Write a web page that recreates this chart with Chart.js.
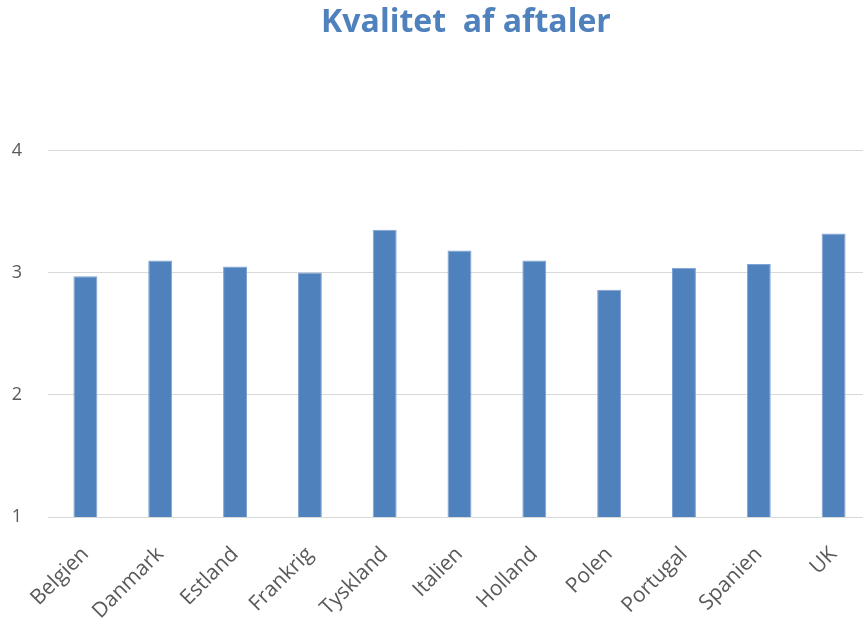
<!DOCTYPE html>
<html>
<head>
<meta charset="utf-8">
<script src="https://cdn.jsdelivr.net/npm/chart.js@4"></script>
<style>
  html, body { margin: 0; padding: 0; background: #fff; overflow: hidden; }
  #wrap { width: 932px; height: 621px; }
</style>
</head>
<body>
<div id="wrap"><canvas id="chart"></canvas></div>
<script>
// data
const countries = ['Belgien', 'Danmark', 'Estland', 'Frankrig', 'Tyskland', 'Italien', 'Holland', 'Polen', 'Portugal', 'Spanien', 'UK'];
const quality = [2.97, 3.10, 3.05, 3.00, 3.35, 3.18, 3.10, 2.86, 3.04, 3.07, 3.32];
const yTicks = [1, 2, 3, 4];

const titleText = 'Kvalitet  af aftaler';
const blue = '#4F81BD';
const grey = '#595959';

new Chart(document.getElementById('chart'), {
  type: 'bar',
  data: {
    labels: countries,
    datasets: [{
      data: quality,
      backgroundColor: blue,
      borderColor: '#7fa3d3',
      borderWidth: 1,
      barPercentage: 0.32,
      categoryPercentage: 1
    }]
  },
  options: {
    responsive: true,
    maintainAspectRatio: false,
    animation: false,
    layout: { padding: 0 },
    plugins: {
      legend: { display: false },
      tooltip: { enabled: false },
      title: {
        display: true,
        text: titleText,
        color: blue,
        font: { family: 'Open Sans', size: 32, weight: 'bold' },
        padding: { top: 4, bottom: 108 }
      }
    },
    scales: {
      x: {
        grid: { display: false },
        border: { display: false },
        ticks: {
          color: grey,
          font: { family: 'Open Sans', size: 21 },
          maxRotation: 45,
          minRotation: 45,
          autoSkip: false,
          padding: 17
        },
        afterFit: s => { s.height = 104; }
      },
      y: {
        min: 1,
        max: 4,
        afterBuildTicks: s => { s.ticks = yTicks.map(v => ({ value: v })); },
        grid: { color: '#d9d9d9', drawTicks: false, lineWidth: 1 },
        border: { display: false },
        ticks: {
          color: grey,
          font: { family: 'Open Sans', size: 18 },
          padding: 26
        },
        afterFit: s => { s.width = 48; }
      },
      // empty axis: keeps the plot running past the cropped right edge
      yRight: {
        position: 'right',
        min: 1,
        max: 4,
        grid: { display: false },
        border: { display: false },
        ticks: { display: false },
        afterFit: s => { s.width = 61; }
      }
    }
  }
});
</script>
</body>
</html>
